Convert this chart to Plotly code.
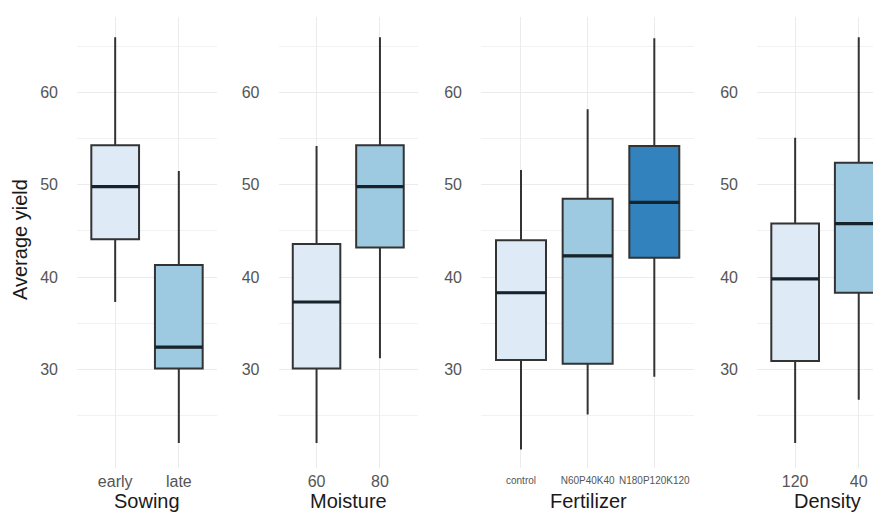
import plotly.graph_objects as go

# ---------------- data ----------------
sowing_cats = ["early", "late"]
sowing_low = [37.3, 22.0]
sowing_q1 = [44.1, 30.1]
sowing_med = [49.8, 32.4]
sowing_q3 = [54.3, 41.3]
sowing_high = [66.0, 51.5]

moisture_cats = ["60", "80"]
moisture_low = [22.0, 31.2]
moisture_q1 = [30.1, 43.2]
moisture_med = [37.3, 49.8]
moisture_q3 = [43.6, 54.3]
moisture_high = [54.2, 66.0]

fert_cats = ["control", "N60P40K40", "N180P120K120"]
fert_low = [21.3, 25.1, 29.2]
fert_q1 = [31.0, 30.6, 42.1]
fert_med = [38.3, 42.3, 48.1]
fert_q3 = [44.0, 48.5, 54.2]
fert_high = [51.6, 58.2, 65.9]

density_cats = ["120", "40"]
density_low = [22.0, 26.7]
density_q1 = [30.9, 38.3]
density_med = [39.8, 45.8]
density_q3 = [45.8, 52.4]
density_high = [55.1, 66.0]

y_ticks = [30, 40, 50, 60]
y_minor = [25, 35, 45, 55, 65]
y_title = "Average yield"

# ---------------- styling ----------------
WIN_W, WIN_H = 881, 513
OFF = 8                      # default page body margin of the browser
W, H = WIN_W - OFF, WIN_H - OFF
blues2 = ["#deebf7", "#9ecae1"]
blues3 = ["#deebf7", "#9ecae1", "#3182bd"]
FONT = "Liberation Sans, Arial, sans-serif"
BOX_W = 0.75


def fx(px):
    return (px - OFF) / W


def fy(py):
    return 1 - (py - OFF) / H


panels = [
    dict(name="Sowing", cats=sowing_cats, low=sowing_low, q1=sowing_q1, med=sowing_med,
         q3=sowing_q3, high=sowing_high, colors=blues2, px=(77, 217), xr=(0.4, 2.6),
         title_x=147, tickfont=16),
    dict(name="Moisture", cats=moisture_cats, low=moisture_low, q1=moisture_q1, med=moisture_med,
         q3=moisture_q3, high=moisture_high, colors=blues2, px=(278.5, 418), xr=(0.4, 2.6),
         title_x=348, tickfont=16),
    dict(name="Fertilizer", cats=fert_cats, low=fert_low, q1=fert_q1, med=fert_med,
         q3=fert_q3, high=fert_high, colors=blues3, px=(481, 694.3), xr=(0.4, 3.6),
         title_x=588, tickfont=10),
    dict(name="Density", cats=density_cats, low=density_low, q1=density_q1, med=density_med,
         q3=density_q3, high=density_high, colors=blues2, px=(757, 881), xr=(0.4, 2.35),
         title_x=827, tickfont=16),
]

y_top_px, y_bot_px = 17, 468
y_dom = [fy(y_bot_px), fy(y_top_px)]
y_range = [19.3, 68.2]

fig = go.Figure()
layout = dict(
    width=W, height=H,
    margin=dict(l=0, r=0, t=0, b=0),
    paper_bgcolor="white", plot_bgcolor="white",
    showlegend=False,
    font=dict(family=FONT),
    annotations=[],
)

for i, p in enumerate(panels, start=1):
    xa = "x" if i == 1 else f"x{i}"
    ya = "y" if i == 1 else f"y{i}"
    positions = list(range(1, len(p["cats"]) + 1))
    for j, pos in enumerate(positions):
        fig.add_trace(go.Box(
            x=[pos], q1=[p["q1"][j]], median=[p["med"][j]], q3=[p["q3"][j]],
            lowerfence=[p["low"][j]], upperfence=[p["high"][j]],
            width=BOX_W, whiskerwidth=0,
            fillcolor=p["colors"][j],
            line=dict(color="#333333", width=2),
            boxpoints=False, hoverinfo="skip",
            xaxis=xa, yaxis=ya,
        ))
        # thicker median bar like ggplot
        fig.add_trace(go.Scatter(
            x=[pos - BOX_W / 2, pos + BOX_W / 2], y=[p["med"][j], p["med"][j]],
            mode="lines", line=dict(color="#17232b", width=3.2),
            hoverinfo="skip", xaxis=xa, yaxis=ya,
        ))
    x0, x1 = p["px"]
    xkey = "xaxis" if i == 1 else f"xaxis{i}"
    ykey = "yaxis" if i == 1 else f"yaxis{i}"
    layout[xkey] = dict(
        domain=[fx(x0), min(1.0, fx(x1))], anchor=ya, range=list(p["xr"]),
        tickmode="array", tickvals=positions, ticktext=p["cats"],
        showgrid=True, gridcolor="#ebebeb", gridwidth=1.2,
        zeroline=False, showline=False, ticks="",
        tickfont=dict(size=p["tickfont"], color="#555555", family=FONT),
        ticklabelstandoff=2 if p["tickfont"] > 12 else 5,
        fixedrange=True,
    )
    layout[ykey] = dict(
        domain=y_dom, anchor=xa, range=y_range,
        tickmode="array", tickvals=y_ticks, ticktext=[str(v) for v in y_ticks],
        showgrid=True, gridcolor="#ebebeb", gridwidth=1.2,
        minor=dict(tickmode="array", tickvals=y_minor, showgrid=True,
                   gridcolor="#f2f2f2", gridwidth=1),
        zeroline=False, showline=False, ticks="",
        tickfont=dict(size=16, color="#555555", family=FONT),
        ticklabelstandoff=18,
        fixedrange=True,
    )
    layout["annotations"].append(dict(
        text=p["name"], xref="paper", yref="paper",
        x=fx(p["title_x"]), y=fy(501), xanchor="center", yanchor="middle",
        showarrow=False, font=dict(size=20, color="#1a1a1a", family=FONT),
    ))

layout["annotations"].append(dict(
    text=y_title, xref="paper", yref="paper",
    x=fx(20), y=fy(240), xanchor="center", yanchor="middle", textangle=-90,
    showarrow=False, font=dict(size=20, color="#1a1a1a", family=FONT),
))

fig.update_layout(**layout)
fig.write_html("out.html")
